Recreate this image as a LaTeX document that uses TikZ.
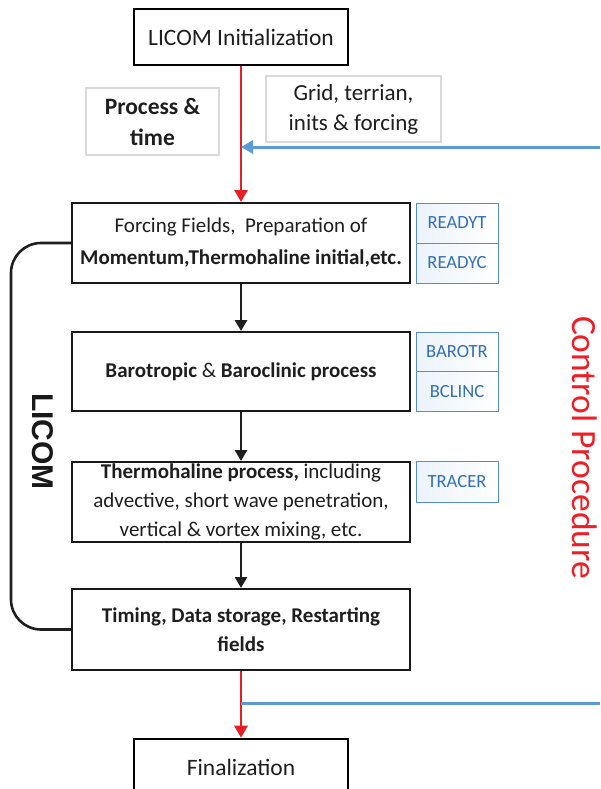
\documentclass[tikz,border=0pt]{standalone}
\usepackage{fontspec}
\setmainfont{Carlito}
\newfontfamily\arialfam{Liberation Sans}
\usetikzlibrary{arrows.meta}
\definecolor{txt}{RGB}{30,30,30}
\definecolor{redln}{RGB}{232,30,38}
\definecolor{blueln}{RGB}{91,155,213}
\definecolor{boxblue}{RGB}{84,141,204}
\definecolor{boxtxt}{RGB}{52,112,182}
\definecolor{boxfill}{RGB}{236,243,251}
\definecolor{ctrlred}{RGB}{240,30,36}
\tikzset{
  endbox/.style={draw=black, line width=2.6pt, minimum width=214pt, minimum height=56pt,
    inner sep=0pt, text=txt, font=\fontsize{23.5}{28}\selectfont},
  notebox/.style={draw=black!15, line width=1.2pt, inner sep=0pt, align=center, text=txt},
  mainbox/.style={draw=black!90, line width=2pt, minimum width=338pt, inner sep=0pt,
    align=center, text=txt, font=\fontsize{21}{29}\selectfont},
  subbox/.style={draw=boxblue, line width=0.9pt, minimum width=82pt, inner sep=0pt,
    left color=boxfill, right color=white, text=boxtxt, font=\fontsize{18.6}{22}\selectfont},
  redarrow/.style={draw=redln, line width=2.8pt, -{Triangle[length=12pt,width=13pt]}},
  blkarrow/.style={draw=black!88, line width=2.6pt, -{Triangle[length=11pt,width=12pt]}},
  bluearrow/.style={draw=blueln, line width=3pt, -{Triangle[length=12pt,width=13pt]}},
  blueline/.style={draw=blueln, line width=3pt},
  bracket/.style={draw=black!88, line width=2.6pt, rounded corners=30pt},
}
\begin{document}
\begin{tikzpicture}[x=1pt,y=-1pt]
\clip (0,0) rectangle (600,789);
\fill[white] (0,0) rectangle (600,789);

% top and bottom boxes
\node[endbox] (init) at (241,37) {LICOM Initialization};
\node[endbox] (final) at (241,767) {Finalization};

% note boxes
\node[notebox, minimum width=133pt, minimum height=67pt,
  font=\bfseries\fontsize{23.5}{31}\selectfont] (proc) at (152.5,121.5) {Process \&\\time};
\node[notebox, minimum width=175pt, minimum height=66pt,
  font=\fontsize{23}{30}\selectfont] (grid) at (353.5,109) {Grid, terrian,\\inits \& forcing};

% main process boxes
\node[mainbox, minimum height=80pt, font=\fontsize{21}{32}\selectfont] (force) at (241,243)
  {Forcing Fields,\ \ Preparation of\\\textbf{Momentum,Thermohaline initial,etc.}};
\node[mainbox, minimum height=79pt] (baro) at (241,371.5)
  {\textbf{Barotropic} \& \textbf{Baroclinic process}};
\node[mainbox, minimum height=80pt] (thermo) at (241,502)
  {\textbf{Thermohaline process,} including\\advective, short wave penetration,\\vertical \& vortex mixing, etc.};
\node[mainbox, minimum height=81pt, font=\bfseries\fontsize{21}{29}\selectfont] (timing) at (241,629.5)
  {Timing, Data storage, Restarting\\fields};

% control subroutine boxes
\node[subbox, minimum height=40pt] (readyt) at (457,223) {READYT};
\node[subbox, minimum height=40pt] (readyc) at (457,263) {READYC};
\node[subbox, minimum height=39.5pt] (barotr) at (457,351.75) {BAROTR};
\node[subbox, minimum height=39.5pt] (bclinc) at (457,391.25) {BCLINC};
\node[subbox, minimum height=41pt] (tracer) at (457,481.5) {TRACER};

% side labels
\node[rotate=-90, text=ctrlred, font=\fontsize{35.5}{40}\selectfont, inner sep=0pt] (ctrl) at (585,447.5) {Control Procedure};
\node[rotate=-90, text=black!90, font=\arialfam\bfseries\fontsize{30}{34}\selectfont, inner sep=0pt] (licom) at (43,441.5) {LICOM};

% connectors
\coordinate (bin) at (600,147);
\coordinate (bout) at (600,703);
\draw[redarrow] (init.south) -- (force.north);
\draw[bluearrow] (bin) -- (init.south |- bin);
\draw[blkarrow] (force.south) -- (baro.north);
\draw[blkarrow] (baro.south) -- (thermo.north);
\draw[blkarrow] (thermo.south) -- (timing.north);
\draw[redarrow] (timing.south) -- (final.north);
\draw[blueline] (timing.south |- bout) -- (bout);
\draw[bracket] (force.west) -- ++(-60,0) |- (timing.west);
\end{tikzpicture}
\end{document}
